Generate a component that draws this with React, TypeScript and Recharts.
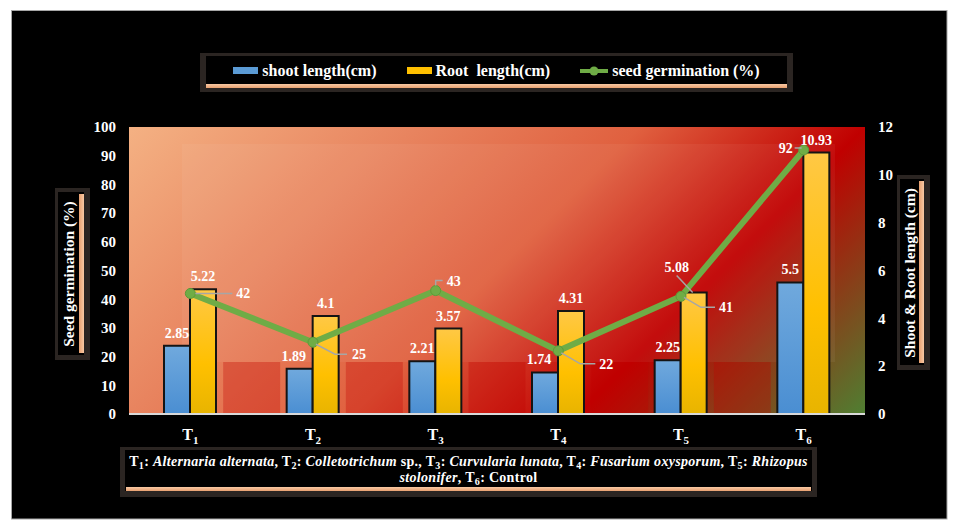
import React from 'react';
import { ComposedChart, Bar, Line, XAxis, YAxis, Legend, LabelList } from 'recharts';

// ---- data ----
const categories = ['T1', 'T2', 'T3', 'T4', 'T5', 'T6'];
const shootLength = [2.85, 1.89, 2.21, 1.74, 2.25, 5.5];
const rootLength = [5.22, 4.1, 3.57, 4.31, 5.08, 10.93];
const seedGermination = [42, 25, 43, 22, 41, 92];
const germinationTicks = [0, 10, 20, 30, 40, 50, 60, 70, 80, 90, 100];
const lengthTicks = [0, 2, 4, 6, 8, 10, 12];

const seriesNames = {
  shoot: 'shoot length(cm)',
  root: 'Root  length(cm)',
  germ: 'seed germination (%)',
};

// caption: [code, italic name, roman suffix]
const treatmentNames: [string, string, string][] = [
  ['T1', 'Alternaria alternata', ''],
  ['T2', 'Colletotrichum', ' sp.'],
  ['T3', 'Curvularia lunata', ''],
  ['T4', 'Fusarium oxysporum', ''],
  ['T5', 'Rhizopus', ''],
];

const data = categories.map((name, i) => ({
  name,
  shoot: shootLength[i],
  root: rootLength[i],
  germ: seedGermination[i],
}));

// ---- layout & style ----
const SERIF = '"Liberation Serif", "Times New Roman", serif';
const W = 965;
const H = 530;
const PLOT = { left: 129, top: 127, right: 865, bottom: 414 };
const PW = PLOT.right - PLOT.left;
const PH = PLOT.bottom - PLOT.top;
const DIAG = (PW + PH) / 2;

const BLUE = '#5b9bd5';
const YELLOW = '#ffc000';
const GREEN = '#6fac46';
const LEADER = '#a6a6a6';
const FRAME = '#2b2522';

const labelFont = { fill: '#fff', fontSize: 14, fontWeight: 700, fontFamily: SERIF } as const;

// label placement for the germination line: text offset, anchor, leader polyline
const germLabelLayout: { tx: number; ty: number; anchor: 'start' | 'end'; leader: number[][] }[] = [
  { tx: 46, ty: 0, anchor: 'start', leader: [[5, 0], [42, 0]] },
  { tx: 39, ty: 12, anchor: 'start', leader: [[3, 2], [22, 12], [34, 12]] },
  { tx: 11, ty: -10, anchor: 'start', leader: [[0, -5], [0, -10], [7, -10]] },
  { tx: 41, ty: 13, anchor: 'start', leader: [[3, 2], [22, 13], [37, 13]] },
  { tx: 38, ty: 11, anchor: 'start', leader: [[3, 1], [20, 11], [34, 11]] },
  { tx: -11, ty: -2, anchor: 'end', leader: [[-9, -2], [-2, -2]] },
];
const shootLabelShift = [0, -6, 0, -6, 0, 0];
const rootLabelLayout: { dx: number; dy: number; leader?: number[][] }[] = [
  { dx: 0, dy: -8 },
  { dx: 0, dy: -8 },
  { dx: 0, dy: -8 },
  { dx: 0, dy: -8 },
  { dx: -17, dy: -21, leader: [[-17, -17], [-1, 0]] },
  { dx: 0, dy: -8 },
];

const ShootLabel = (p: any) => {
  const cx = p.x + p.width / 2 + shootLabelShift[p.index];
  return (
    <text x={cx} y={p.y - 8} textAnchor="middle" {...labelFont}>
      {p.value}
    </text>
  );
};

const RootLabel = (p: any) => {
  const L = rootLabelLayout[p.index];
  const cx = p.x + p.width / 2;
  return (
    <g>
      {L.leader && (
        <polyline
          points={L.leader.map(([dx, dy]) => `${cx + dx},${p.y + dy}`).join(' ')}
          fill="none"
          stroke={LEADER}
          strokeWidth={1.5}
        />
      )}
      <text x={cx + L.dx} y={p.y + L.dy} textAnchor="middle" {...labelFont}>
        {p.value}
      </text>
    </g>
  );
};

const GermLabel = (p: any) => {
  const L = germLabelLayout[p.index];
  const x = p.x ?? p.viewBox?.x;
  const y = p.y ?? p.viewBox?.y;
  return (
    <g>
      <polyline
        points={L.leader.map(([dx, dy]) => `${x + dx},${y + dy}`).join(' ')}
        fill="none"
        stroke={LEADER}
        strokeWidth={1.5}
      />
      <text x={x + L.tx} y={y + L.ty + 5} textAnchor={L.anchor} {...labelFont}>
        {p.value}
      </text>
    </g>
  );
};

const CategoryTick = (props: any) => {
  const { x, y, payload } = props;
  const label = String(payload.value);
  return (
    <text x={x} y={y + 18} textAnchor="middle" fill="#fff" fontSize={16} fontWeight={700} fontFamily={SERIF}>
      {label.slice(0, 1)}
      <tspan dy={4} fontSize={11}>
        {label.slice(1)}
      </tspan>
    </text>
  );
};

const PeachBar = ({ style }: { style: React.CSSProperties }) => (
  <div style={{ position: 'absolute', background: 'linear-gradient(#f8c9a4, #e8a070)', ...style }} />
);

const LegendBox = () => {
  const item = (swatch: React.ReactNode, text: string) => (
    <div style={{ display: 'flex', alignItems: 'center', gap: 4 }}>
      {swatch}
      <span style={{ whiteSpace: 'pre' }}>{text}</span>
    </div>
  );
  return (
    <div style={{ position: 'relative', width: 593, height: 39, background: FRAME }}>
      <div style={{ position: 'absolute', left: 6, top: 3, right: 6, bottom: 4, background: '#000' }} />
      <PeachBar style={{ left: 6, right: 6, bottom: 4, height: 4 }} />
      <div
        style={{
          position: 'absolute',
          left: 6,
          right: 6,
          top: 3,
          height: 29,
          display: 'flex',
          justifyContent: 'center',
          alignItems: 'center',
          gap: 30,
          color: '#fff',
          fontFamily: SERIF,
          fontWeight: 700,
          fontSize: 16,
        }}
      >
        {item(<div style={{ width: 25, height: 7, background: BLUE }} />, seriesNames.shoot)}
        {item(<div style={{ width: 25, height: 7, background: YELLOW }} />, seriesNames.root)}
        {item(
          <svg width={28} height={10}>
            <line x1={0} y1={5} x2={28} y2={5} stroke={GREEN} strokeWidth={4} />
            <circle cx={14} cy={5} r={4.5} fill={GREEN} />
          </svg>,
          seriesNames.germ
        )}
      </div>
    </div>
  );
};

const TitleBox = ({ left, top, width, height, text }: any) => (
  <div style={{ position: 'absolute', left, top, width, height, background: FRAME }}>
    <div style={{ position: 'absolute', left: 3, top: 4, right: 6, bottom: 5, background: '#000' }} />
    <PeachBar style={{ right: 6, top: 6, bottom: 7, width: 5, background: 'linear-gradient(90deg, #e8a070, #f8c9a4)' }} />
    <div
      style={{
        position: 'absolute',
        left: (width - 8) / 2,
        top: height / 2,
        transform: 'translate(-50%, -50%) rotate(-90deg)',
        whiteSpace: 'nowrap',
        color: '#fff',
        fontFamily: SERIF,
        fontWeight: 700,
        fontSize: 15.5,
      }}
    >
      {text}
    </div>
  </div>
);

const Sub = ({ children }: { children: React.ReactNode }) => (
  <span style={{ fontSize: '0.72em', verticalAlign: '-0.25em', lineHeight: 0 }}>{children}</span>
);

const Caption = () => (
  <div style={{ position: 'absolute', left: 120, top: 447, width: 697, height: 50, background: FRAME }}>
    <div style={{ position: 'absolute', left: 5, top: 3, right: 5, bottom: 6, background: '#000' }} />
    <PeachBar style={{ left: 6, right: 6, bottom: 6, height: 4 }} />
    <div
      style={{
        position: 'absolute',
        left: 0,
        right: 0,
        top: 7,
        textAlign: 'center',
        color: '#fff',
        fontFamily: SERIF,
        fontWeight: 700,
        fontSize: 14,
        letterSpacing: 0.3,
        lineHeight: '16px',
        whiteSpace: 'nowrap',
      }}
    >
      {treatmentNames.map(([code, name, suffix], i) => (
        <React.Fragment key={code}>
          {code.slice(0, 1)}
          <Sub>{code.slice(1)}</Sub>: <i>{name}</i>
          {suffix}
          {i < treatmentNames.length - 1 ? ', ' : ''}
        </React.Fragment>
      ))}
      <br />
      <i>stolonifer</i>, T<Sub>6</Sub>: Control
    </div>
  </div>
);

const Backdrop = () => {
  const band = PW / categories.length;
  return (
    <svg width={W} height={H} style={{ position: 'absolute', left: 0, top: 0 }}>
      <defs>
        <linearGradient
          id="plotFill"
          gradientUnits="userSpaceOnUse"
          x1={PLOT.left}
          y1={PLOT.top}
          x2={PLOT.left + DIAG}
          y2={PLOT.top + DIAG}
        >
          <stop offset="0" stopColor="#f4b183" />
          <stop offset="0.28" stopColor="#e8845f" />
          <stop offset="0.5" stopColor="#e0603f" />
          <stop offset="0.72" stopColor="#c00000" />
          <stop offset="1" stopColor="#4f7f32" />
        </linearGradient>
        <linearGradient id="shootFill" x1="0" y1="0" x2="0" y2="1">
          <stop offset="0" stopColor="#70a9dd" />
          <stop offset="1" stopColor="#4a8ed2" />
        </linearGradient>
        <linearGradient id="rootFill" x1="0" y1="0" x2="0" y2="1">
          <stop offset="0" stopColor="#ffc845" />
          <stop offset="0.6" stopColor="#ffc000" />
          <stop offset="1" stopColor="#e8b400" />
        </linearGradient>
      </defs>
      <rect x={11.5} y={10.5} width={935.5} height={508.5} fill="#000" stroke="#a6a6a6" />
      <rect x={PLOT.left} y={PLOT.top} width={PW} height={PH} fill="url(#plotFill)" />
      <rect x={182} y={144} width={653} height={218} fill="#fff" opacity={0.05} />
      {categories.slice(1).map((c, i) => (
        <rect
          key={c}
          x={PLOT.left + band * (i + 1) - 28.5}
          y={362}
          width={57}
          height={PLOT.bottom - 362}
          fill="#c00000"
          opacity={0.3}
        />
      ))}
    </svg>
  );
};

export default function App() {
  const tickStyle = { fill: '#fff', fontSize: 15, fontWeight: 700, fontFamily: SERIF };
  return (
    <div style={{ position: 'absolute', left: 0, top: 0, width: W, height: H, background: '#fff', overflow: 'hidden' }}>
      <Backdrop />
      <div style={{ position: 'absolute', left: 0, top: 0 }}>
        <ComposedChart
          width={W}
          height={H}
          data={data}
          margin={{ top: PLOT.top, right: 0, bottom: 0, left: 0 }}
          barGap={0}
          barSize={26}
        >
          <XAxis
            dataKey="name"
            height={H - PLOT.bottom}
            axisLine={{ stroke: '#d9d9d9', strokeWidth: 2 }}
            tickLine={false}
            tickMargin={2}
            tick={<CategoryTick />}
            interval={0}
          />
          <YAxis
            yAxisId="left"
            orientation="left"
            width={PLOT.left}
            domain={[0, 100]}
            ticks={germinationTicks}
            interval={0}
            axisLine={false}
            tickLine={false}
            tickMargin={7}
            tick={tickStyle}
          />
          <YAxis
            yAxisId="right"
            orientation="right"
            width={W - PLOT.right}
            domain={[0, 12]}
            ticks={lengthTicks}
            interval={0}
            axisLine={false}
            tickLine={false}
            tickMargin={7}
            tick={tickStyle}
          />
          <Legend
            layout="horizontal"
            verticalAlign="middle"
            align="center"
            wrapperStyle={{ left: 200, top: 53, width: 593, height: 39 }}
            content={<LegendBox />}
          />
          <Bar
            yAxisId="right"
            dataKey="shoot"
            name={seriesNames.shoot}
            fill="url(#shootFill)"
            stroke="#141414"
            strokeWidth={2}
            isAnimationActive={false}
          >
            <LabelList dataKey="shoot" content={<ShootLabel />} />
          </Bar>
          <Bar
            yAxisId="right"
            dataKey="root"
            name={seriesNames.root}
            fill="url(#rootFill)"
            stroke="#141414"
            strokeWidth={2}
            isAnimationActive={false}
          >
            <LabelList dataKey="root" content={<RootLabel />} />
          </Bar>
          <Line
            yAxisId="left"
            type="linear"
            dataKey="germ"
            name={seriesNames.germ}
            stroke={GREEN}
            strokeWidth={6}
            dot={{ r: 5, fill: GREEN, stroke: '#5e9a3a', strokeWidth: 1 }}
            activeDot={false}
            isAnimationActive={false}
          >
            <LabelList dataKey="germ" content={<GermLabel />} />
          </Line>
        </ComposedChart>
      </div>
      <TitleBox left={55} top={188} width={35} height={172} text="Seed germination (%)" />
      <TitleBox left={897} top={175} width={33} height={195} text="Shoot & Root length (cm)" />
      <Caption />
    </div>
  );
}
